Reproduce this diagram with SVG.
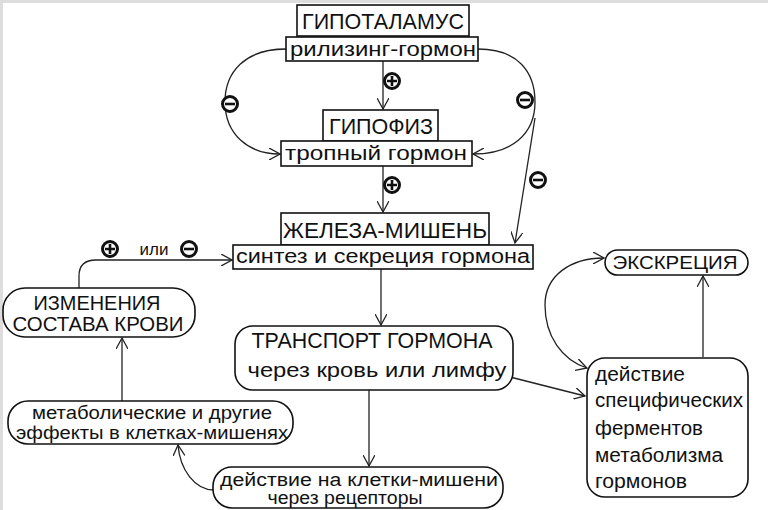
<svg xmlns="http://www.w3.org/2000/svg" width="768" height="510" viewBox="0 0 768 510">
<defs>
<style>
.box{fill:#fff;stroke:#111;stroke-width:1.6}
.ln{fill:none;stroke:#222;stroke-width:1.3}
.t{font-family:"Liberation Sans",Arial,sans-serif;fill:#111}
.sg{fill:#fff;stroke:#111;stroke-width:3}
</style>
<marker id="ar" viewBox="0 0 12 12" refX="11" refY="6" markerWidth="12" markerHeight="12" markerUnits="userSpaceOnUse" orient="auto-start-reverse">
<path d="M0,0 L11,6 L0,12" fill="none" stroke="#222" stroke-width="1.3"/>
</marker>
<g id="plus"><circle r="7.5" class="sg"/><path d="M-5,0H5M0,-5V5" stroke="#111" stroke-width="2.6"/></g>
<g id="minus"><circle r="7.5" class="sg"/><path d="M-5,0H5" stroke="#111" stroke-width="2.6"/></g>
</defs>
<rect x="0" y="0" width="768" height="510" fill="#fff"/>
<path d="M0,1.5H768M1.5,0V510" stroke="#ddd" stroke-width="3"/>

<g id="connectors">
<path class="ln" d="M383,61 V109" marker-end="url(#ar)"/>
<path class="ln" d="M286,49 C245,49 225,72 225,102 C225,134 248,154 280,154" marker-end="url(#ar)"/>
<path class="ln" d="M478,49 C518,49 535,72 535,102 C535,134 512,154 473,154" marker-end="url(#ar)"/>
<path class="ln" d="M535,118 L515,243" marker-end="url(#ar)"/>
<path class="ln" d="M383,166 V212" marker-end="url(#ar)"/>
<path class="ln" d="M381,269 V325" marker-end="url(#ar)"/>
<path class="ln" d="M79,288 V276 Q79,260 96,260 H232" marker-end="url(#ar)"/>
<path class="ln" d="M122,402 V338" marker-end="url(#ar)"/>
<path class="ln" d="M369,390 V466" marker-end="url(#ar)"/>
<path class="ln" d="M214,490 C195,490 180,470 178,445" marker-end="url(#ar)"/>
<path class="ln" d="M510,377 L585,396" marker-end="url(#ar)"/>
<path class="ln" d="M703,357 V276" marker-end="url(#ar)"/>
<path class="ln" d="M604,258 C570,258 545,276 545,305 C545,336 562,360 587,368" marker-start="url(#ar)" marker-end="url(#ar)"/>
</g>

<g id="signs">
<use href="#plus" x="392" y="81"/>
<use href="#minus" x="230" y="104"/>
<use href="#minus" x="525" y="100"/>
<use href="#minus" x="538" y="180"/>
<use href="#plus" x="392" y="185"/>
<use href="#plus" x="110" y="249"/>
<use href="#minus" x="189" y="249"/>
<text class="t" x="154" y="255" font-size="17" text-anchor="middle">или</text>
</g>

<g id="hypothalamus">
<rect class="box" x="297" y="5" width="172" height="31"/>
<text class="t" x="383" y="29" font-size="22" text-anchor="middle" textLength="162" lengthAdjust="spacingAndGlyphs">ГИПОТАЛАМУС</text>
</g>
<g id="releasing">
<rect class="box" x="286" y="37" width="192" height="24"/>
<text class="t" x="383" y="56" font-size="20" text-anchor="middle" textLength="186" lengthAdjust="spacingAndGlyphs">рилизинг-гормон</text>
</g>
<g id="hypophysis">
<rect class="box" x="323" y="110" width="115" height="31"/>
<text class="t" x="381" y="134" font-size="22" text-anchor="middle" textLength="104" lengthAdjust="spacingAndGlyphs">ГИПОФИЗ</text>
</g>
<g id="tropic">
<rect class="box" x="281" y="141" width="191" height="25"/>
<text class="t" x="376" y="160" font-size="20" text-anchor="middle" textLength="182" lengthAdjust="spacingAndGlyphs">тропный гормон</text>
</g>
<g id="gland">
<rect class="box" x="281" y="213" width="208" height="32"/>
<text class="t" x="385" y="238" font-size="22" text-anchor="middle" textLength="204" lengthAdjust="spacingAndGlyphs">ЖЕЛЕЗА-МИШЕНЬ</text>
</g>
<g id="synthesis">
<rect class="box" x="233" y="245" width="300" height="24"/>
<text class="t" x="383" y="263" font-size="20" text-anchor="middle" textLength="294" lengthAdjust="spacingAndGlyphs">синтез и секреция гормона</text>
</g>
<g id="transport">
<rect class="box" x="235" y="326" width="278" height="64" rx="18"/>
<text class="t" x="372" y="348" font-size="22" text-anchor="middle" textLength="241" lengthAdjust="spacingAndGlyphs">ТРАНСПОРТ ГОРМОНА</text>
<text class="t" x="377" y="377" font-size="20" text-anchor="middle" textLength="259" lengthAdjust="spacingAndGlyphs">через кровь или лимфу</text>
</g>
<g id="blood">
<rect class="box" x="3" y="288" width="192" height="49" rx="22"/>
<text class="t" x="97" y="310" font-size="21" text-anchor="middle" textLength="127" lengthAdjust="spacingAndGlyphs">ИЗМЕНЕНИЯ</text>
<text class="t" x="98" y="331" font-size="21" text-anchor="middle" textLength="171" lengthAdjust="spacingAndGlyphs">СОСТАВА КРОВИ</text>
</g>
<g id="effects">
<rect class="box" x="8" y="401" width="285" height="43" rx="20"/>
<text class="t" x="152" y="419" font-size="18" text-anchor="middle" textLength="240" lengthAdjust="spacingAndGlyphs">метаболические и другие</text>
<text class="t" x="152" y="439" font-size="18" text-anchor="middle" textLength="272" lengthAdjust="spacingAndGlyphs">эффекты в клетках-мишенях</text>
</g>
<g id="receptors">
<rect class="box" x="213" y="467" width="290" height="41" rx="19"/>
<text class="t" x="359" y="486" font-size="18" text-anchor="middle" textLength="278" lengthAdjust="spacingAndGlyphs">действие на клетки-мишени</text>
<text class="t" x="345" y="504" font-size="18" text-anchor="middle" textLength="155" lengthAdjust="spacingAndGlyphs">через рецепторы</text>
</g>
<g id="excretion">
<rect class="box" x="605" y="250" width="143" height="25" rx="12.5"/>
<text class="t" x="675" y="269" font-size="19" text-anchor="middle" textLength="125" lengthAdjust="spacingAndGlyphs">ЭКСКРЕЦИЯ</text>
</g>
<g id="enzymes">
<rect class="box" x="587" y="358" width="161" height="139" rx="18"/>
<text class="t" x="595" y="381" font-size="20" textLength="90" lengthAdjust="spacingAndGlyphs">действие</text>
<text class="t" x="595" y="407" font-size="20" textLength="148" lengthAdjust="spacingAndGlyphs">специфических</text>
<text class="t" x="595" y="435" font-size="20" textLength="108" lengthAdjust="spacingAndGlyphs">ферментов</text>
<text class="t" x="595" y="462" font-size="20" textLength="128" lengthAdjust="spacingAndGlyphs">метаболизма</text>
<text class="t" x="595" y="488" font-size="20" textLength="92" lengthAdjust="spacingAndGlyphs">гормонов</text>
</g>
</svg>
